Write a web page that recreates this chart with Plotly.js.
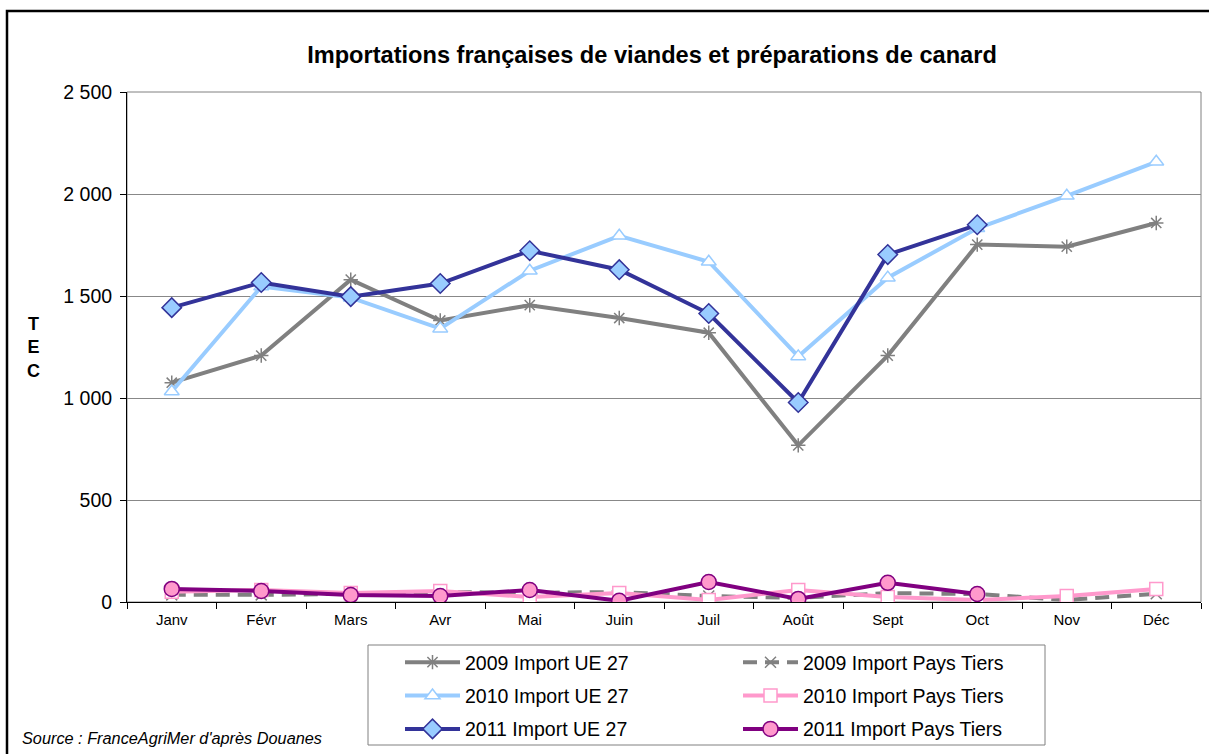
<!DOCTYPE html>
<html>
<head>
<meta charset="utf-8">
<script src="https://cdn.plot.ly/plotly-3.0.1.min.js"></script>
<style>html,body{margin:0;padding:0;background:#fff;}#chart{width:1209px;height:754px;}</style>
</head>
<body>
<div id="chart"></div>
<script>
const months = ["Janv","Févr","Mars","Avr","Mai","Juin","Juil","Août","Sept","Oct","Nov","Déc"];
const ue2009 = [1075,1208,1580,1380,1455,1392,1320,768,1208,1752,1742,1858];
const pt2009 = [35,35,40,49,45,49,29,20,44,39,10,40];
const ue2010 = [1032,1546,1492,1340,1624,1795,1668,1204,1590,1832,1991,2158];
const pt2010 = [50,59,44,54,24,44,10,59,24,10,29,64];
const ue2011 = [1443,1566,1497,1561,1722,1629,1414,978,1703,1849,null,null];
const pt2011 = [64,54,34,29,59,6,98,15,94,39,null,null];

const seriesNames = ["2009 Import UE 27","2009 Import Pays Tiers","2010 Import UE 27","2010 Import Pays Tiers","2011 Import UE 27","2011 Import Pays Tiers"];

const traces = [
  {x: months, y: ue2009, name: seriesNames[0], legend: "legend", legendgroup: "a", legendrank: 1,
   type: "scatter", mode: "lines+markers",
   line: {color: "#808080", width: 4},
   marker: {symbol: "asterisk-open", size: 12, color: "#808080", line: {color: "#808080", width: 1.5}}},
  {x: months, y: pt2009, name: seriesNames[1], legend: "legend2", legendgroup: "b", legendrank: 1,
   type: "scatter", mode: "lines+markers",
   line: {color: "#808080", width: 4, dash: "14px,8px"},
   marker: {symbol: "x-thin-open", size: 11, color: "#808080", line: {color: "#808080", width: 1.5}}},
  {x: months, y: ue2010, name: seriesNames[2], legend: "legend", legendgroup: "c", legendrank: 2,
   type: "scatter", mode: "lines+markers",
   line: {color: "#99CCFF", width: 4},
   marker: {symbol: "triangle-up", size: 13, color: "#FFFFFF", line: {color: "#99CCFF", width: 1.5}}},
  {x: months, y: pt2010, name: seriesNames[3], legend: "legend2", legendgroup: "d", legendrank: 2,
   type: "scatter", mode: "lines+markers",
   line: {color: "#FF99CC", width: 4},
   marker: {symbol: "square", size: 13, color: "#FFFFFF", line: {color: "#FF99CC", width: 1.5}}},
  {x: months, y: ue2011, name: seriesNames[4], legend: "legend", legendgroup: "e", legendrank: 3,
   type: "scatter", mode: "lines+markers",
   line: {color: "#333399", width: 4},
   marker: {symbol: "diamond", size: 15, color: "#99CCFF", line: {color: "#333399", width: 1.5}}},
  {x: months, y: pt2011, name: seriesNames[5], legend: "legend2", legendgroup: "f", legendrank: 3,
   type: "scatter", mode: "lines+markers",
   line: {color: "#800080", width: 4},
   marker: {symbol: "circle", size: 15, color: "#FF99CC", line: {color: "#800080", width: 1.5}}}
];

const W = 1209, H = 754;
const L = 127, R = 1201, T = 92, B = 602;
const px = v => (v - L) / (R - L);
const py = v => (B - v) / (B - T);

const legendCommon = {
  orientation: "v", xref: "container", yref: "container", xanchor: "left", yanchor: "top",
  bgcolor: "rgba(0,0,0,0)", borderwidth: 0, font: {size: 19.5, color: "#000"},
  itemwidth: 55, tracegroupgap: 5, traceorder: "grouped"
};

const layout = {
  width: W, height: H,
  margin: {l: L, r: W - R, t: T, b: H - B, pad: 0, autoexpand: false},
  paper_bgcolor: "#FFFFFF", plot_bgcolor: "#FFFFFF",
  separators: ", ",
  font: {family: "Arial, Liberation Sans, sans-serif", color: "#000000"},
  title: {text: "<b>Importations françaises de viandes et préparations de canard</b>",
          font: {size: 23.6, family: "Arial, Liberation Sans, sans-serif", color: "#000"},
          x: 652/W, xanchor: "center", y: 1 - 55/H, yanchor: "middle"},
  xaxis: {type: "category", range: [-0.5, 11.5], tickson: "boundaries", ticks: "outside",
          ticklen: 6, tickcolor: "#000", showline: true, linecolor: "#000", linewidth: 1,
          showgrid: false, zeroline: false, tickangle: 0, automargin: false,
          ticklabelstandoff: 4,
          tickfont: {size: 15, color: "#000"}, fixedrange: true},
  yaxis: {range: [0, 2500], dtick: 500, tickformat: ",d", ticks: "outside", ticklen: 6,
          tickcolor: "#000", showline: true, linecolor: "#000", linewidth: 1,
          showgrid: true, gridcolor: "#888888", gridwidth: 1, zeroline: false,
          ticklabelstandoff: 4, automargin: false,
          tickfont: {size: 19.5, color: "#000"}, fixedrange: true},
  showlegend: true,
  legend: Object.assign({}, legendCommon, {x: 400/W, y: 1 - 643/H}),
  legend2: Object.assign({}, legendCommon, {x: 738/W, y: 1 - 643/H}),
  shapes: [
    {type: "rect", xref: "paper", yref: "paper", x0: 0, x1: 1, y0: 0, y1: 1,
     line: {color: "#808080", width: 1}, layer: "below"},
    {type: "rect", xref: "paper", yref: "paper", x0: px(368), x1: px(1045), y0: py(745), y1: py(645),
     line: {color: "#808080", width: 1}},
    {type: "rect", xref: "paper", yref: "paper", x0: px(7), x1: px(1220), y0: py(770), y1: py(11),
     line: {color: "#000000", width: 2.5}}
  ],
  annotations: [
    {text: "<b>T<br>E<br>C</b>", xref: "paper", yref: "paper", x: px(33), y: py(347),
     xanchor: "center", yanchor: "middle", showarrow: false, align: "center",
     font: {size: 18, color: "#000"}},
    {text: "<i>Source : FranceAgriMer d'après Douanes</i>", xref: "paper", yref: "paper",
     x: px(20), y: py(738), xanchor: "left", yanchor: "middle", showarrow: false,
     font: {size: 16.3, color: "#000"}}
  ]
};

Plotly.newPlot("chart", traces, layout, {displayModeBar: false, staticPlot: true});
</script>
</body>
</html>
